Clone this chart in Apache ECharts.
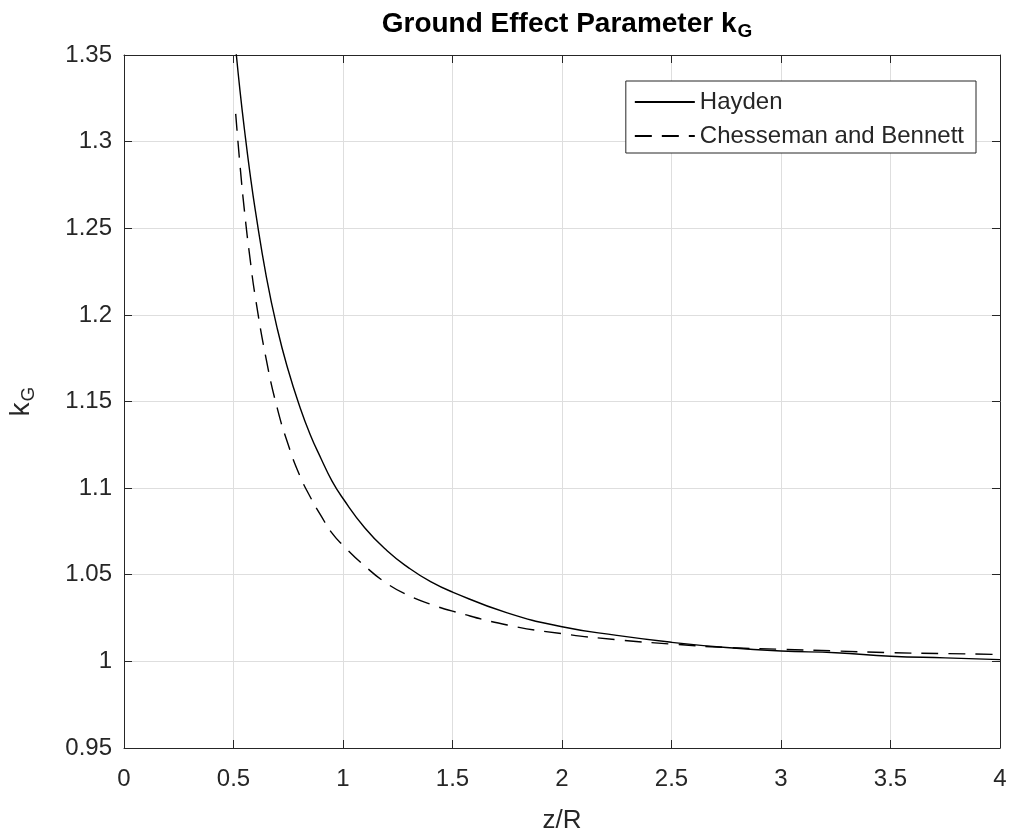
<!DOCTYPE html>
<html>
<head>
<meta charset="utf-8">
<script src="https://cdn.jsdelivr.net/npm/echarts@6/dist/echarts.min.js"></script>
<style>
html,body{margin:0;padding:0;background:#fff;}
#chart{width:1012px;height:837px;}
</style>
</head>
<body>
<div id="chart"></div>
<script>
// ---- data ----
const zR = [0.51, 0.53, 0.55, 0.575, 0.6, 0.65, 0.7, 0.75, 0.8, 0.85, 0.9, 0.95, 1.0, 1.1, 1.2, 1.3, 1.4, 1.5, 1.75, 2.0, 2.25, 2.5, 2.75, 3.0, 3.25, 3.5, 3.75, 4.0];
const hayden = [1.354, 1.329, 1.307, 1.282, 1.260, 1.222, 1.192, 1.168, 1.148, 1.131, 1.117, 1.104, 1.094, 1.077, 1.064, 1.054, 1.046, 1.040, 1.028, 1.020, 1.015, 1.011, 1.008, 1.006, 1.005, 1.003, 1.002, 1.001];
const chessemanBennett = [1.316, 1.286, 1.260, 1.233, 1.210, 1.174, 1.146, 1.125, 1.108, 1.095, 1.084, 1.074, 1.067, 1.055, 1.045, 1.038, 1.033, 1.029, 1.021, 1.016, 1.0125, 1.010, 1.008, 1.007, 1.006, 1.005, 1.0045, 1.004];
const xTickLabels = ['0', '0.5', '1', '1.5', '2', '2.5', '3', '3.5', '4'];
const yTickLabels = ['0.95', '1', '1.05', '1.1', '1.15', '1.2', '1.25', '1.3', '1.35'];
const seriesNames = ['Hayden', 'Chesseman and Bennett'];

const FONT = '"Liberation Sans", Arial, Helvetica, sans-serif';
const AX = '#262626';
const GRID = '#dedede';

const xMin = 0, xMax = 4, xInt = 0.5;
const yMin = 0.95, yMax = 1.35, yInt = 0.05;

function xFmt(v){ const i = Math.round((v - xMin) / xInt); return xTickLabels[i] ?? ''; }
function yFmt(v){ const i = Math.round((v - yMin) / yInt); return yTickLabels[i] ?? ''; }

const chart = echarts.init(document.getElementById('chart'), null, {renderer: 'canvas'});

const baseX = {
  type: 'value', min: xMin, max: xMax, interval: xInt,
  axisLine: {show: true, onZero: false, lineStyle: {color: AX, width: 1}},
  axisTick: {show: true, inside: true, length: 8, lineStyle: {color: AX}},
};
const baseY = {
  type: 'value', min: yMin, max: yMax, interval: yInt,
  axisLine: {show: true, onZero: false, lineStyle: {color: AX, width: 1}},
  axisTick: {show: true, inside: true, length: 8, lineStyle: {color: AX}},
};

chart.setOption({
  animation: false,
  backgroundColor: '#fff',
  title: {
    text: '{a|Ground Effect Parameter k}{s|G}',
    left: 562, top: 2, textAlign: 'center',
    textStyle: {
      rich: {
        a: {fontFamily: FONT, fontWeight: 'bold', fontSize: 28, color: '#000'},
        s: {fontFamily: FONT, fontWeight: 'bold', fontSize: 19, color: '#000', padding: [15, 0, 0, 1]}
      }
    }
  },
  grid: {left: 124, right: 12, top: 55, bottom: 89, containLabel: false, outerBoundsMode: 'none'},
  legend: {
    orient: 'vertical', right: 36, top: 81,
    align: 'left',
    itemWidth: 60, itemHeight: 14, itemGap: 10,
    padding: [9, 12, 5, 8],
    borderColor: AX, borderWidth: 1, backgroundColor: '#fff',
    itemStyle: {color: 'rgba(0,0,0,0)', borderColor: 'rgba(0,0,0,0)', borderWidth: 0},
    textStyle: {fontFamily: FONT, fontSize: 24, color: AX},
    data: seriesNames
  },
  xAxis: [
    Object.assign({}, baseX, {
      position: 'bottom',
      name: 'z/R', nameLocation: 'middle', nameGap: 60,
      nameTextStyle: {fontFamily: FONT, fontSize: 26, color: AX},
      axisLabel: {fontFamily: FONT, fontSize: 24, color: AX, margin: 19, formatter: xFmt},
      splitLine: {show: true, lineStyle: {color: GRID, width: 1}}
    }),
    Object.assign({}, baseX, {
      position: 'top',
      axisLabel: {show: false},
      splitLine: {show: false}
    })
  ],
  yAxis: [
    Object.assign({}, baseY, {
      position: 'left',
      name: '{a|k}{s|G}', nameLocation: 'middle', nameGap: 86, nameRotate: 90,
      nameTextStyle: {
        rich: {
          a: {fontFamily: FONT, fontSize: 28, color: AX},
          s: {fontFamily: FONT, fontSize: 19, color: AX, padding: [15, 0, 0, 1]}
        }
      },
      axisLabel: {fontFamily: FONT, fontSize: 24, color: AX, margin: 12, formatter: yFmt},
      splitLine: {show: true, lineStyle: {color: GRID, width: 1}}
    }),
    Object.assign({}, baseY, {
      position: 'right',
      axisLabel: {show: false},
      splitLine: {show: false}
    })
  ],
  series: [
    {
      name: seriesNames[0], type: 'line', xAxisIndex: 0, yAxisIndex: 0,
      data: zR.map((x, i) => [x, hayden[i]]),
      smooth: true, symbol: 'none', showSymbol: false, clip: true,
      lineStyle: {color: '#000', width: 1.4, type: 'solid'},
      itemStyle: {color: '#000'}
    },
    {
      name: seriesNames[1], type: 'line', xAxisIndex: 0, yAxisIndex: 0,
      data: zR.map((x, i) => [x, chessemanBennett[i]]),
      smooth: true, symbol: 'none', showSymbol: false, clip: true,
      lineStyle: {color: '#000', width: 1.4, type: [17, 10]},
      itemStyle: {color: '#000'}
    }
  ]
});
</script>
</body>
</html>
